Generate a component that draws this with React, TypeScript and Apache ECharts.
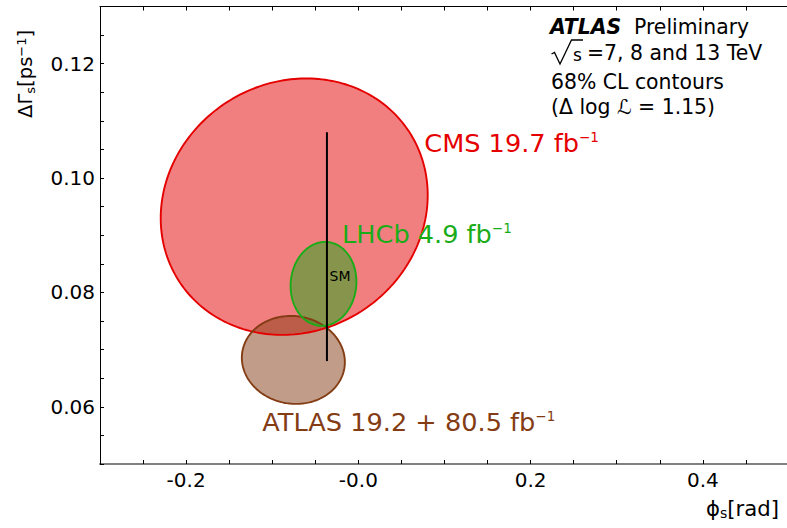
import React, { useEffect, useRef } from "react";
import * as echarts from "echarts";

const FONT = "DejaVu Sans";

// 68% CL contours: centre (phi_s, DeltaGamma_s), half-extent in each direction, correlation
const contourNames = ["CMS", "ATLAS", "LHCb"];
const phiCenters = [-0.0745, -0.0755, -0.0405];
const dgCenters = [0.095, 0.0682, 0.0815];
const phiHalfWidths = [0.155, 0.0598, 0.0382];
const dgHalfHeights = [0.02242, 0.00769, 0.00734];
const correlations = [0.09, -0.05, 0.05];
const contourColors = ["#e50000", "#843c14", "#1aac18"];
const contourFills = ["rgba(229,0,0,0.5)", "rgba(132,60,20,0.5)", "rgba(26,172,24,0.5)"];

// Standard Model prediction
const smPhi = [-0.0365, -0.0365];
const smDG = [0.068, 0.108];

// Experiment labels
const labelMain = ["CMS 19.7 fb", "ATLAS 19.2 + 80.5 fb", "LHCb 4.9 fb"];
const labelSup = ["−1", "−1", "−1"];
const labelPhi = [0.0765, -0.1115, -0.019];
const labelDG = [0.10615, 0.05734, 0.0903];

const smLabel = "SM";
const smLabelPhi = -0.0335;
const smLabelDG = 0.0829;

// Ticks
const xTickValues = [-0.2, 0.0, 0.2, 0.4];
const xTickTexts = ["-0.2", "-0.0", "0.2", "0.4"];
const yTickValues = [0.06, 0.08, 0.1, 0.12];
const yTickTexts = ["0.06", "0.08", "0.10", "0.12"];

const infoLines = ["ATLAS", "Preliminary", "s", "=7, 8 and 13 TeV", "68% CL contours", "(Δ log ℒ = 1.15)"];

function lookup(values: number[], texts: string[], v: number) {
  for (let i = 0; i < values.length; i++) {
    if (Math.abs(values[i] - v) < 1e-9) return texts[i];
  }
  return "";
}

function ellipsePoints(api: any) {
  const cx = api.value(0);
  const cy = api.value(1);
  const hw = api.value(2);
  const hh = api.value(3);
  const r = api.value(4);
  const s = Math.sqrt(1 - r * r);
  const pts: number[][] = [];
  const N = 240;
  for (let i = 0; i < N; i++) {
    const t = (i / N) * 2 * Math.PI;
    pts.push(api.coord([cx + hw * Math.cos(t), cy + hh * (r * Math.cos(t) + s * Math.sin(t))]));
  }
  return pts;
}

export default function App() {
  const ref = useRef<HTMLDivElement>(null);
  useEffect(() => {
    if (!ref.current) return;
    const chart = echarts.init(ref.current, null, { renderer: "svg" });

    const series: any[] = [];
    contourNames.forEach((name, i) => {
      series.push({
        type: "custom",
        name: name + " fill",
        data: [[phiCenters[i], dgCenters[i], phiHalfWidths[i], dgHalfHeights[i], correlations[i]]],
        encode: { x: 0, y: 1 },
        z: 2,
        silent: true,
        renderItem: (params: any, api: any) => ({
          type: "polygon",
          shape: { points: ellipsePoints(api) },
          style: { fill: contourFills[i], stroke: "none" },
        }),
      });
    });
    contourNames.forEach((name, i) => {
      series.push({
        type: "custom",
        name: name + " edge",
        data: [[phiCenters[i], dgCenters[i], phiHalfWidths[i], dgHalfHeights[i], correlations[i]]],
        encode: { x: 0, y: 1 },
        z: 3,
        silent: true,
        renderItem: (params: any, api: any) => ({
          type: "polygon",
          shape: { points: ellipsePoints(api) },
          style: { fill: "none", stroke: contourColors[i], lineWidth: 1.9 },
        }),
      });
    });
    series.push({
      type: "line",
      name: "SM",
      data: smPhi.map((p, i) => [p, smDG[i]]),
      symbol: "none",
      z: 4,
      lineStyle: { color: "#000", width: 2 },
      silent: true,
    });
    series.push({
      type: "scatter",
      name: "labels",
      symbolSize: 0,
      z: 5,
      silent: true,
      itemStyle: { opacity: 1 },
      data: labelMain
        .map((t, i) => ({
          value: [labelPhi[i], labelDG[i]],
          label: {
            show: true,
            position: "right",
            distance: 0,
            opacity: 1,
            formatter: "{m|" + t + "}{s|" + labelSup[i] + "}",
            rich: {
              m: { fontSize: 25.6, fontFamily: FONT, color: contourColors[i], lineHeight: 26 },
              s: { fontSize: 13.5, fontFamily: FONT, color: contourColors[i], verticalAlign: "top", lineHeight: 14 },
            },
          },
        }) as any)
        .concat([
          {
            value: [smLabelPhi, smLabelDG],
            label: {
              show: true,
              position: "right",
              distance: 0,
              opacity: 1,
              formatter: smLabel,
              fontSize: 14,
              fontFamily: FONT,
              color: "#000",
            },
          },
        ]),
    });

    const xAxisCommon = {
      type: "value",
      min: -0.3,
      max: 0.5,
      interval: 0.05,
      splitLine: { show: false },
    };

    chart.setOption({
      animation: false,
      grid: { left: 100, right: 0, top: 6.5, bottom: 64, containLabel: false },
      xAxis: [
        {
          ...xAxisCommon,
          position: "bottom",
          axisLine: { show: true, onZero: false, lineStyle: { color: "#808080", width: 2 } },
          axisTick: { show: true, inside: true, length: 4, lineStyle: { color: "#000", width: 1 } },
          axisLabel: {
            show: true,
            margin: 6,
            fontSize: 20,
            fontFamily: FONT,
            color: "#000",
            formatter: (v: number) => lookup(xTickValues, xTickTexts, v),
          },
        },
        {
          ...xAxisCommon,
          position: "top",
          axisLine: { show: true, onZero: false, lineStyle: { color: "#000", width: 1 } },
          axisTick: { show: true, inside: true, length: 4, lineStyle: { color: "#000", width: 1 } },
          axisLabel: { show: false },
        },
      ],
      yAxis: [
        {
          type: "value",
          min: 0.05,
          max: 0.13,
          interval: 0.005,
          splitLine: { show: false },
          axisLine: { show: true, onZero: false, lineStyle: { color: "#000", width: 1 } },
          axisTick: { show: true, inside: true, length: 4, lineStyle: { color: "#000", width: 1 } },
          axisLabel: {
            show: true,
            margin: 5,
            fontSize: 20,
            fontFamily: FONT,
            color: "#000",
            formatter: (v: number) => lookup(yTickValues, yTickTexts, v),
          },
        },
      ],
      graphic: [
        {
          type: "text",
          x: 25.5,
          y: 118,
          rotation: Math.PI / 2,
          style: {
            text: "{m|ΔΓ}{b|s}{m|[ps}{t|−1}{m|]}",
            textAlign: "left",
            textVerticalAlign: "middle",
            fill: "#000",
            rich: {
              m: { fontSize: 19.6, fontFamily: FONT, fill: "#000", lineHeight: 22 },
              b: { fontSize: 13, fontFamily: FONT, fill: "#000", verticalAlign: "bottom", lineHeight: 14 },
              t: { fontSize: 13, fontFamily: FONT, fill: "#000", verticalAlign: "top", lineHeight: 14 },
            },
          },
        },
        {
          type: "text",
          x: 706,
          y: 508,
          style: {
            text: "{m|ϕ}{b|s}{m|[rad]}",
            textAlign: "left",
            textVerticalAlign: "middle",
            fill: "#000",
            rich: {
              m: { fontSize: 21.2, fontFamily: FONT, fill: "#000", lineHeight: 23 },
              b: { fontSize: 14, fontFamily: FONT, fill: "#000", verticalAlign: "bottom", lineHeight: 15 },
            },
          },
        },
        {
          type: "text",
          x: 550,
          y: 27,
          style: {
            text: infoLines[0],
            textAlign: "left",
            textVerticalAlign: "middle",
            fontSize: 20.4,
            fontFamily: FONT,
            fontWeight: "bold",
            fontStyle: "italic",
            fill: "#000",
          },
        },
        {
          type: "text",
          x: 634,
          y: 27,
          style: {
            text: infoLines[1],
            textAlign: "left",
            textVerticalAlign: "middle",
            fontSize: 20.4,
            fontFamily: FONT,
            fill: "#000",
          },
        },
        {
          type: "polyline",
          shape: { points: [[551.5, 54], [554.5, 52.5], [560, 64], [571.5, 40], [583, 40]] },
          style: { stroke: "#000", lineWidth: 1.3, fill: "none" },
        },
        {
          type: "text",
          x: 573,
          y: 54.5,
          style: {
            text: infoLines[2],
            textAlign: "left",
            textVerticalAlign: "middle",
            fontSize: 17,
            fontFamily: FONT,
            fill: "#000",
          },
        },
        {
          type: "text",
          x: 587,
          y: 52.5,
          style: {
            text: infoLines[3],
            textAlign: "left",
            textVerticalAlign: "middle",
            fontSize: 20.4,
            fontFamily: FONT,
            fill: "#000",
          },
        },
        {
          type: "text",
          x: 551,
          y: 82,
          style: {
            text: infoLines[4],
            textAlign: "left",
            textVerticalAlign: "middle",
            fontSize: 20.4,
            fontFamily: FONT,
            fill: "#000",
          },
        },
        {
          type: "text",
          x: 551,
          y: 107,
          style: {
            text: infoLines[5],
            textAlign: "left",
            textVerticalAlign: "middle",
            fontSize: 20.4,
            fontFamily: FONT,
            fill: "#000",
          },
        },
      ],
      series,
    });
    return () => chart.dispose();
  }, []);
  return (
    <div
      ref={ref}
      style={{ position: "fixed", left: 0, top: 0, width: 792, height: 528, background: "#fff" }}
    />
  );
}
